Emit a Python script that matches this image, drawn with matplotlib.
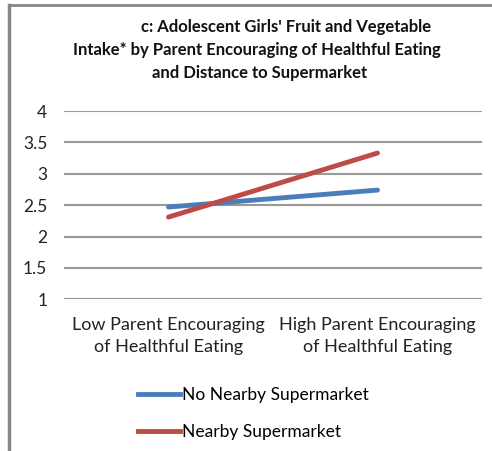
import matplotlib.pyplot as plt
from matplotlib.lines import Line2D

plt.rcParams['font.family'] = ['Lato', 'DejaVu Sans']

categories = ['Low Parent Encouraging\nof Healthful Eating',
              'High Parent Encouraging\nof Healthful Eating']
no_nearby = [2.47, 2.74]
nearby = [2.31, 3.33]
yticks = [1, 1.5, 2, 2.5, 3, 3.5, 4]
yticklabels = ['1', '1.5', '2', '2.5', '3', '3.5', '4']
title_lines = ["c: Adolescent Girls' Fruit and Vegetable",
               "Intake* by Parent Encouraging of Healthful Eating",
               "and Distance to Supermarket"]

fig = plt.figure(figsize=(4.92, 4.51), dpi=100)
ax = fig.add_axes([64/492, 1 - 299.3/451, (482-64)/492, (299.3-111)/451])

x = range(len(categories))
ax.plot(x, no_nearby, color='#4a7ebb', lw=3.5, solid_capstyle='round', label='No Nearby Supermarket')
ax.plot(x, nearby, color='#be4b48', lw=3.5, solid_capstyle='round', label='Nearby Supermarket')

ax.set_xlim(-0.5, 1.5)
ax.set_ylim(1, 4)
ax.set_yticks(yticks)
ax.set_yticklabels(yticklabels, fontsize=12.5, color='#222222')
ax.set_xticks(list(x))
ax.set_xticklabels(categories, fontsize=13, color='#222222', linespacing=1.45)
ax.tick_params(length=0, axis='y', pad=12)
ax.tick_params(length=0, axis='x', pad=13)
ax.yaxis.grid(True, color='#999999', lw=1.5)
ax.set_axisbelow(True)
for s in ax.spines.values():
    s.set_visible(False)

# title lines (first line is shifted right in the original)
for cx, cy, line in zip([286, 257, 260], [27, 50, 73], title_lines):
    fig.text(cx/492, 1 - cy/451, line, ha='center', va='center',
             fontsize=12, fontweight='bold', color='#111111')

handles = [Line2D([], [], color='#4a7ebb', lw=3.5),
           Line2D([], [], color='#be4b48', lw=3.5)]
fig.legend(handles, ['No Nearby Supermarket', 'Nearby Supermarket'],
           loc='upper left', bbox_to_anchor=(131/492, 1 - 380/451),
           frameon=False, fontsize=12.5, handlelength=2.4, handletextpad=0.15,
           labelspacing=1.2, borderaxespad=0)

fig.add_artist(Line2D([8.5/492, 8.5/492], [0, 1 - 5/451], color='#888888', lw=2.5))
fig.add_artist(Line2D([8.5/492, 1], [1 - 5/451, 1 - 5/451], color='#888888', lw=2))

fig.savefig('out.png', dpi=100)
